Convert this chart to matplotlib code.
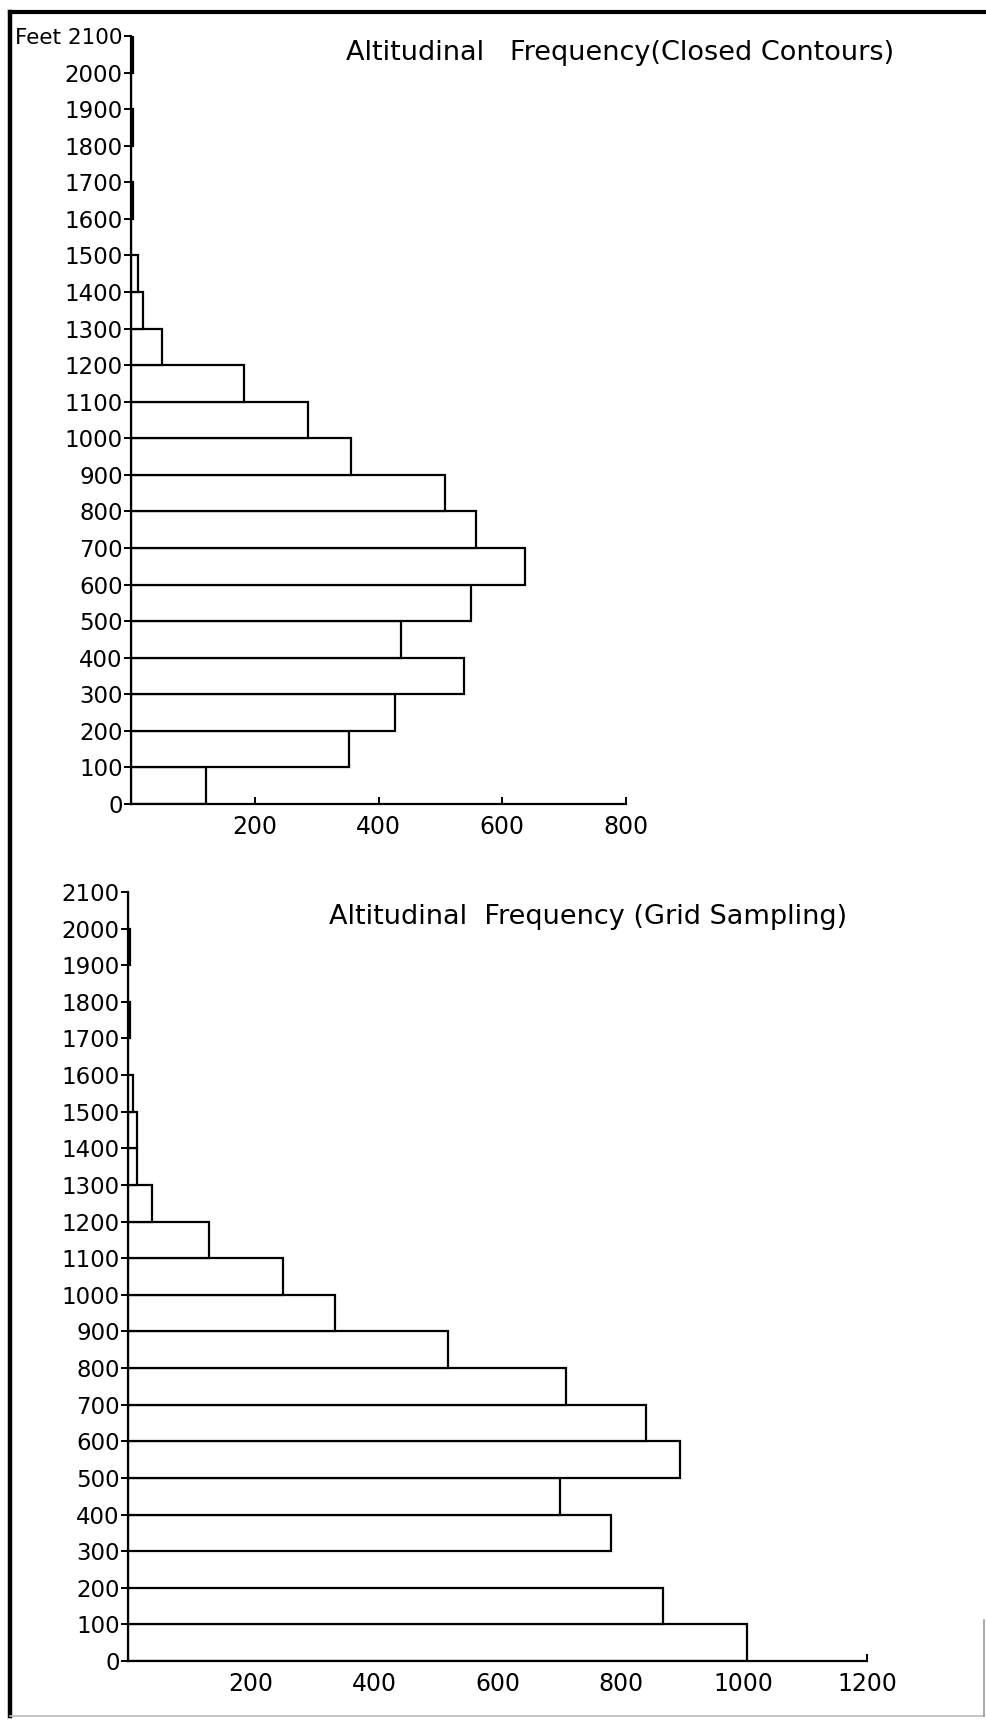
import matplotlib.pyplot as plt
from matplotlib.lines import Line2D

# altitude classes (feet), lower edges 0..2000, width 100
alt_edges = list(range(0, 2200, 100))
alt_ticks = list(range(0, 2200, 100))

# frequency per altitude class (bottom class first)
closed_contours = [122, 352, 427, 538, 436, 550, 637, 558, 507, 356, 286,
                   182, 50, 20, 12, 0, 4, 0, 3, 0, 3]
# 200-300 class has no right edge drawn in the original, kept as 0
grid_sampling = [1005, 869, 0, 785, 702, 897, 841, 712, 520, 336, 252,
                 132, 39, 15, 15, 8, 0, 4, 0, 4, 0]

top_xticks = [200, 400, 600, 800]
bottom_xticks = [200, 400, 600, 800, 1000, 1200]

top_title = "Altitudinal   Frequency(Closed Contours)"
bottom_title = "Altitudinal  Frequency (Grid Sampling)"

plt.rcParams['font.family'] = ['DejaVu Sans']

W, H = 986, 1722
fig = plt.figure(figsize=(W / 100, H / 100), dpi=100)
fig.patch.set_facecolor('white')


def px_axes(x0, x1, y_top, y_bot):
    # axes placed by pixel box on the page
    return fig.add_axes([x0 / W, 1 - y_bot / H, (x1 - x0) / W, (y_bot - y_top) / H])


def draw_hist(ax, values, xmax, xticks, top_label):
    ax.barh(alt_edges[:-1], values, height=100, align='edge',
            facecolor='white', edgecolor='black', linewidth=1.6, zorder=2)
    ax.set_xlim(0, xmax)
    ax.set_ylim(0, 2100)
    for s in ['top', 'right']:
        ax.spines[s].set_visible(False)
    for s in ['left', 'bottom']:
        ax.spines[s].set_linewidth(1.6)
        ax.spines[s].set_color('black')
    ax.set_yticks(alt_ticks)
    labels = [str(t) for t in alt_ticks]
    labels[-1] = top_label
    ax.set_yticklabels(labels, fontsize=16.5)
    if top_label.startswith("Feet"):
        # squeeze the unit label so it stays inside the page frame
        ax.get_yticklabels()[-1].set_fontsize(15.5)
    ax.set_xticks(xticks)
    ax.set_xticklabels([str(t) for t in xticks], fontsize=17)
    ax.tick_params(axis='y', direction='out', length=5, width=1.4, pad=1)
    ax.tick_params(axis='x', direction='in', length=5, width=1.4, pad=8)
    ax.set_facecolor('white')


ax_top = px_axes(131, 626, 36, 804)
draw_hist(ax_top, closed_contours, 800, top_xticks, "Feet 2100")

ax_bot = px_axes(128, 867, 892, 1661)
draw_hist(ax_bot, grid_sampling, 1200, bottom_xticks, "2100")

fig.text(346 / W, 1 - 53 / H, top_title, ha='left', va='center', fontsize=19.5)
fig.text(329 / W, 1 - 917 / H, bottom_title, ha='left', va='center', fontsize=19.5)

# page frame of the scanned figure
fig.add_artist(Line2D([10 / W, 10 / W], [1 - 12 / H, 1 - 1716 / H], color='black', lw=3.2))
fig.add_artist(Line2D([10 / W, 986 / W], [1 - 12 / H, 1 - 12 / H], color='black', lw=3.0))
fig.add_artist(Line2D([10 / W, 984 / W], [1 - 1716 / H, 1 - 1716 / H], color='#bbbbbb', lw=1.2))
fig.add_artist(Line2D([984 / W, 984 / W], [1 - 1620 / H, 1 - 1716 / H], color='#999999', lw=1.2))

fig.savefig('out.png', dpi=100)
